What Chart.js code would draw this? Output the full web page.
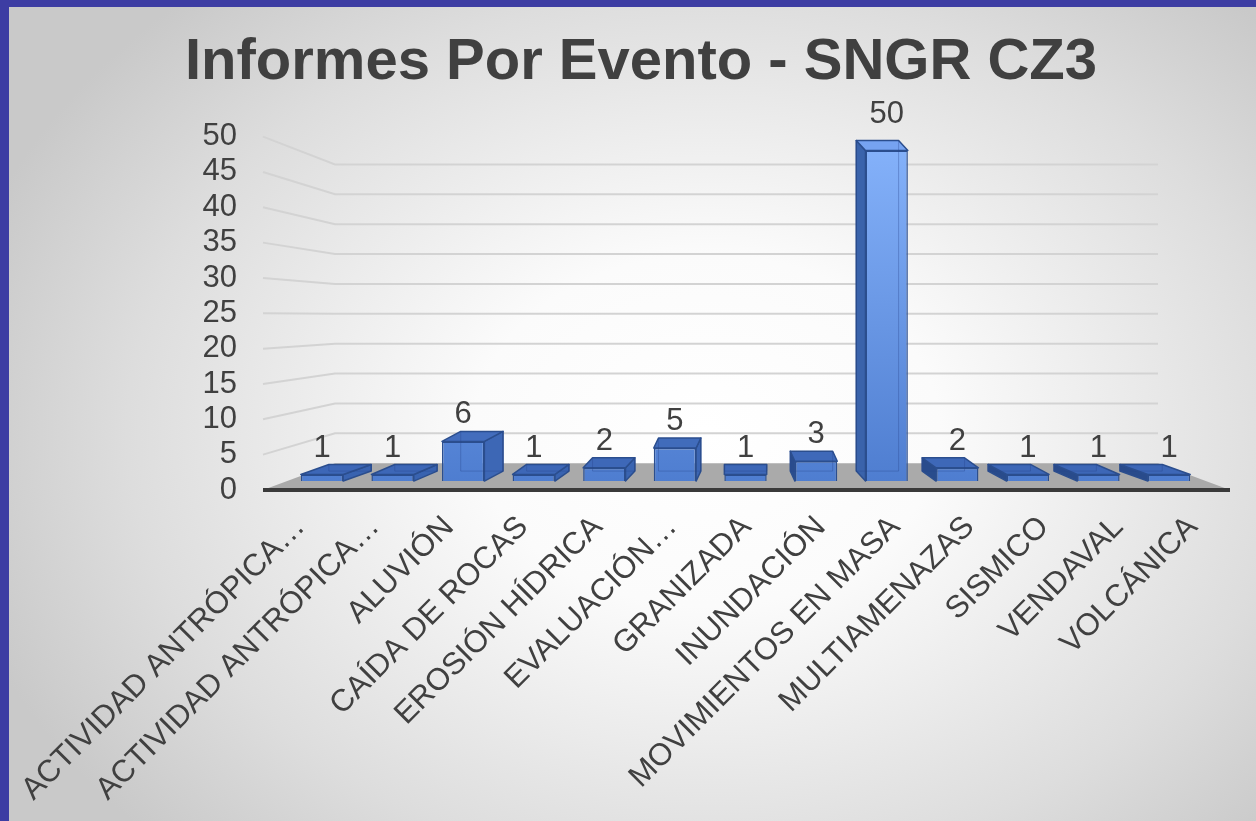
<!DOCTYPE html>
<html><head><meta charset="utf-8">
<script src="https://cdn.jsdelivr.net/npm/chart.js@4"></script>
<style>
html,body{margin:0;padding:0;width:1256px;height:821px;overflow:hidden;background:#c8c8c8;}
#frame{position:absolute;left:0;top:0;width:1256px;height:821px;box-sizing:border-box;border-top:7px solid #3d3da3;border-left:9px solid #3d3da3;
background:radial-gradient(ellipse 62% 72% at 56% 52%, #ffffff 0%, #fbfbfb 30%, #dddddd 75%, #c9c9c9 100%);}
#wrap{position:absolute;left:0;top:0;width:1256px;height:821px;}
</style></head>
<body><div id="frame"></div><div id="wrap"><canvas id="c"></canvas></div>
<script>
const categories = ["ACTIVIDAD ANTRÓPICA…","ACTIVIDAD ANTRÓPICA…","ALUVIÓN","CAÍDA DE ROCAS","EROSIÓN HÍDRICA","EVALUACIÓN…","GRANIZADA","INUNDACIÓN","MOVIMIENTOS EN MASA","MULTIAMENAZAS","SISMICO","VENDAVAL","VOLCÁNICA"];
const values = [1,1,6,1,2,5,1,3,50,2,1,1,1];
const yMin = 0, yMax = 50, yStep = 5;
const titleText = "Informes Por Evento - SNGR CZ3";

const FONT = "'Liberation Sans', Arial, sans-serif";
const TXT = '#404040';

function mix(c1, c2, t){
  const a=[1,3,5].map(i=>parseInt(c1.substr(i,2),16)), b=[1,3,5].map(i=>parseInt(c2.substr(i,2),16));
  return 'rgb('+a.map((v,i)=>Math.round(v+(b[i]-v)*t)).join(',')+')';
}

const depthPlugin = {
  id:'depth',
  beforeDatasetsDraw(chart){
    const {ctx, chartArea:a, scales} = chart;
    const yF = scales.y, yW = scales.yWall;
    const fl = a.left, wl = a.left+72, wr = a.right-72, fr = a.right;
    ctx.save();
    ctx.strokeStyle = '#d3d3d3'; ctx.lineWidth = 2;
    yF.ticks.forEach(t=>{
      if (t.value === yMin) return;
      const yf = yF.getPixelForValue(t.value), yw = yW.getPixelForValue(t.value);
      ctx.beginPath(); ctx.moveTo(fl,yf); ctx.lineTo(wl,yw); ctx.lineTo(wr,yw); ctx.stroke();
    });
    const y0f = yF.getPixelForValue(yMin), y0w = yW.getPixelForValue(yMin);
    ctx.fillStyle = '#aaaaaa';
    ctx.beginPath(); ctx.moveTo(fl,y0f); ctx.lineTo(wl,y0w); ctx.lineTo(wr,y0w); ctx.lineTo(fr,y0f); ctx.closePath(); ctx.fill();
    ctx.strokeStyle = '#3a3a3a'; ctx.lineWidth = 4;
    ctx.beginPath(); ctx.moveTo(fl,y0f); ctx.lineTo(fr,y0f); ctx.stroke();
    ctx.restore();
  },
  afterDatasetsDraw(chart){
    const {ctx, chartArea:a} = chart;
    const meta = chart.getDatasetMeta(0);
    const vp = (a.left + a.right)/2;
    const dy = -10;
    ctx.save();
    meta.data.forEach((bar, i)=>{
      const p = bar.getProps(['x','y','base','width'], true);
      const L = p.x - p.width/2, R = p.x + p.width/2, T = p.y, B = p.base;
      const dx = (vp - p.x)*0.066;
      const tt = Math.min(1, Math.max(0,(T - a.top)/(a.bottom - a.top)));
      ctx.lineWidth = 1.5; ctx.strokeStyle = '#2b4e8e'; ctx.lineJoin='round';
      const sx = dx > 0 ? R : L;
      if (Math.abs(dx) > 0.5) {
        ctx.fillStyle = dx > 0 ? mix('#5f8fe0','#3761ae',tt) : mix('#3b64ac','#284a8a',tt);
        ctx.beginPath(); ctx.moveTo(sx,T); ctx.lineTo(sx+dx,T+dy); ctx.lineTo(sx+dx,B+dy); ctx.lineTo(sx,B); ctx.closePath(); ctx.fill(); ctx.stroke();
      }
      ctx.fillStyle = mix('#78a6f3','#3a64b4',tt);
      ctx.beginPath(); ctx.moveTo(L,T); ctx.lineTo(R,T); ctx.lineTo(R+dx,T+dy); ctx.lineTo(L+dx,T+dy); ctx.closePath(); ctx.fill(); ctx.stroke();
      ctx.strokeStyle = 'rgba(40,70,140,0.35)'; ctx.lineWidth = 1;
      ctx.beginPath(); ctx.moveTo(L+dx,T+dy); ctx.lineTo(L+dx,B+dy); ctx.lineTo(R+dx,B+dy); ctx.lineTo(R+dx,T+dy); ctx.stroke();
      ctx.fillStyle = TXT; ctx.font = '31px '+FONT; ctx.textAlign='center'; ctx.textBaseline='middle';
      ctx.fillText(String(values[i]), p.x, T - 26 - (B - T)*0.03);
    });
    ctx.restore();
  }
};

const barPoints = values.map((v,i)=>({x:i, y:v}));

new Chart(document.getElementById('c'), {
  type:'bar',
  data:{
    labels: categories,
    datasets:[{
      data: barPoints,
      xAxisID:'xBar', yAxisID:'yBar',
      barPercentage:0.6, categoryPercentage:1,
      borderColor:'#2b4e8e', borderWidth:1.5,
      backgroundColor:(c)=>{
        const ch=c.chart, a=ch.chartArea; if(!a) return '#4a7acc';
        const g=ch.ctx.createLinearGradient(0,a.top,0,a.bottom);
        g.addColorStop(0,'#86b3fb'); g.addColorStop(1,'#4d7ccf'); return g;
      }
    }]
  },
  options:{
    responsive:true, maintainAspectRatio:false, animation:false,
    layout:{padding:{left:52,right:26,top:0,bottom:0}},
    plugins:{
      legend:{display:false}, tooltip:{enabled:false},
      title:{display:true, text:titleText, color:TXT, font:{family:FONT,size:58,weight:'bold'}, padding:{top:28,bottom:39}}
    },
    scales:{
      x:{
        type:'category', offset:true,
        grid:{display:false}, border:{display:false},
        ticks:{color:TXT, font:{family:FONT,size:31}, minRotation:45, maxRotation:45, autoSkip:false, padding:11},
        afterFit:(s)=>{ s.height = 331; }
      },
      xBar:{ type:'linear', display:false, offset:false, bounds:'ticks', min:-0.836, max:12.864, grid:{offset:false} },
      y:{
        position:'left', min:yMin, max:yMax,
        grid:{display:false, drawTicks:false}, border:{display:false},
        ticks:{stepSize:yStep, autoSkip:false, color:TXT, font:{family:FONT,size:31,lineHeight:1}, padding:26},
        afterFit:(s)=>{ s.width = 211; }
      },
      yBar:{ display:false, min:-1.351, max:52.10 },
      yWall:{ display:false, min:-4.485, max:54.65 }
    }
  },
  plugins:[depthPlugin]
});
</script>
</body></html>
